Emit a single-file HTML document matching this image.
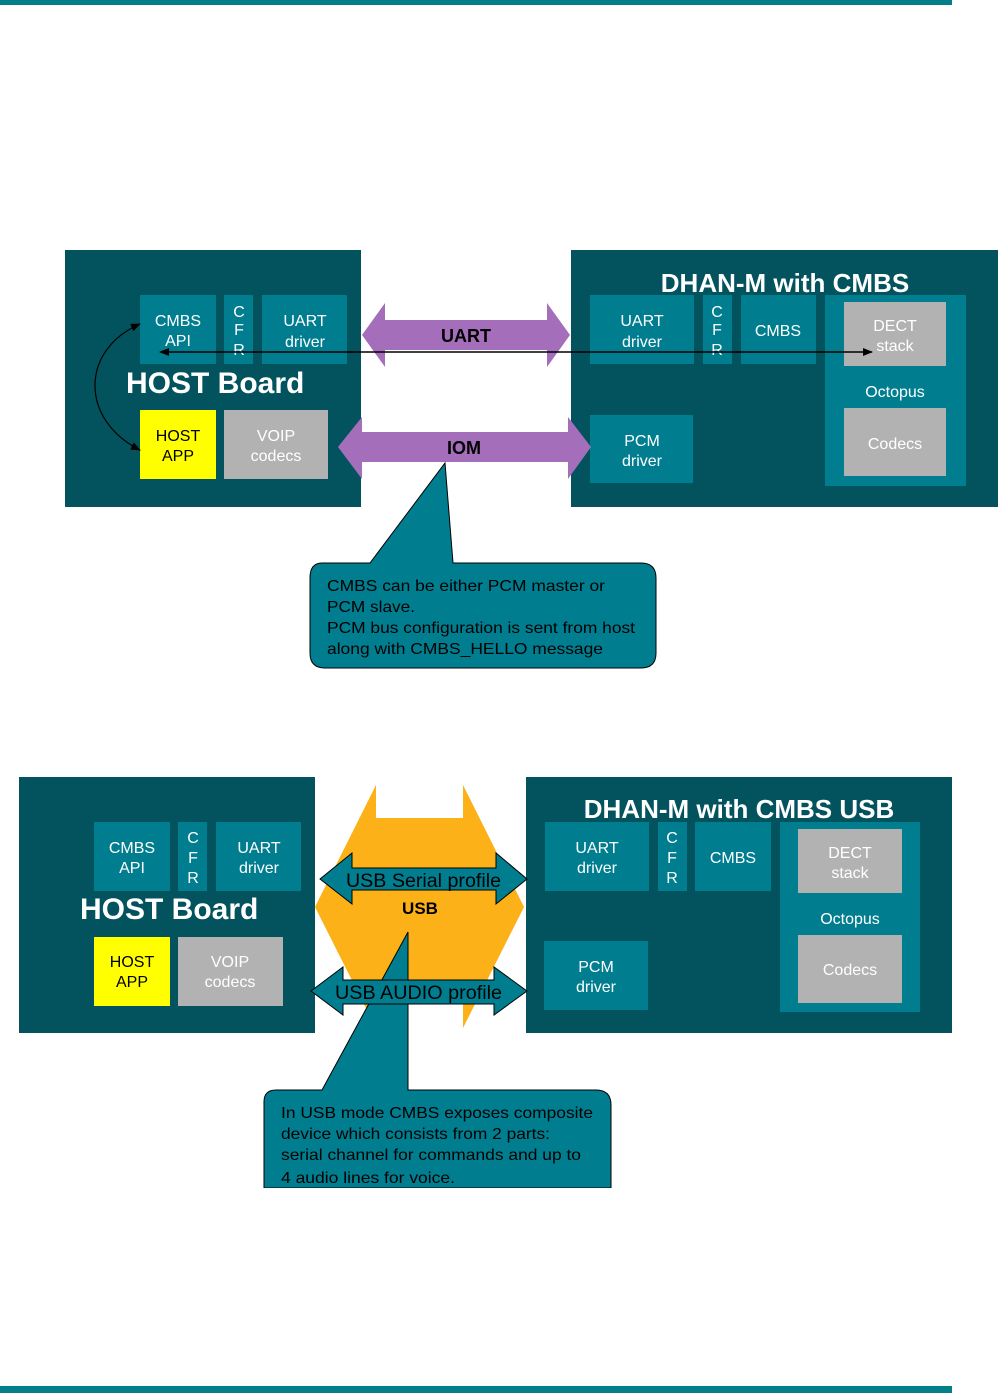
<!DOCTYPE html>
<html><head><meta charset="utf-8"><style>
body{margin:0;background:#fff;}
svg{display:block;font-family:"Liberation Sans",Arial,sans-serif;}
</style></head><body>
<svg width="1004" height="1393" viewBox="0 0 1004 1393" xmlns="http://www.w3.org/2000/svg">
<defs>
<marker id="ah" markerWidth="10" markerHeight="8" refX="9" refY="4" orient="auto-start-reverse" markerUnits="userSpaceOnUse"><path d="M0,0 L10,4 L0,8 z" fill="#000"/></marker>
</defs>
<rect x="0" y="0" width="952" height="5" fill="#037F8A"/>
<rect x="0" y="1386" width="952" height="7" fill="#037F8A"/>

<!-- TOP DIAGRAM -->
<rect x="65" y="250" width="296" height="257" fill="#03535F"/>
<rect x="571" y="250" width="427" height="257" fill="#03535F"/>
<g fill="#007E90">
<rect x="140" y="295" width="76" height="69"/>
<rect x="224" y="295" width="29" height="69"/>
<rect x="262" y="295" width="85" height="69"/>
<rect x="590" y="295" width="104" height="69"/>
<rect x="703" y="295" width="29" height="69"/>
<rect x="741" y="295" width="75" height="69"/>
<rect x="825" y="295" width="141" height="191"/>
<rect x="590" y="415" width="103" height="68"/>
</g>
<rect x="140" y="410" width="76" height="69" fill="#FFFF00"/>
<rect x="224" y="410" width="104" height="69" fill="#B2B2B2"/>
<rect x="844" y="302" width="102" height="64" fill="#B2B2B2"/>
<rect x="844" y="408" width="102" height="68" fill="#B2B2B2"/>
<g fill="#fff" font-size="16" text-anchor="middle">
<text x="178" y="326">CMBS</text><text x="178" y="346">API</text>
<text x="239" y="317">C</text><text x="239" y="335">F</text><text x="239" y="355">R</text>
<text x="305" y="326">UART</text><text x="305" y="347">driver</text>
<text x="276" y="441">VOIP</text><text x="276" y="461">codecs</text>
<text x="642" y="326">UART</text><text x="642" y="347">driver</text>
<text x="717" y="317">C</text><text x="717" y="335">F</text><text x="717" y="355">R</text>
<text x="778" y="336">CMBS</text>
<text x="895" y="331">DECT</text><text x="895" y="351">stack</text>
<text x="895" y="397">Octopus</text>
<text x="895" y="449">Codecs</text>
<text x="642" y="446">PCM</text><text x="642" y="466">driver</text>
</g>
<text x="178" y="441" font-size="16" text-anchor="middle">HOST</text>
<text x="178" y="461" font-size="16" text-anchor="middle">APP</text>
<text x="126" y="393" font-size="30" font-weight="bold" fill="#fff">HOST Board</text>
<text x="785" y="292" font-size="26" font-weight="bold" fill="#fff" text-anchor="middle">DHAN-M with CMBS</text>
<polygon points="362,335 385,303 385,320 547,320 547,303 570,335 547,367 547,350 385,350 385,367" fill="#A56EBB"/>
<text x="466" y="342" font-size="18" font-weight="bold" text-anchor="middle">UART</text>
<polygon points="338,447 362,417 362,432 568,432 568,417 591,447 568,479 568,462 362,462 362,479" fill="#A56EBB"/>
<text x="464" y="454" font-size="18" font-weight="bold" text-anchor="middle">IOM</text>
<line x1="160" y1="352" x2="872" y2="352" stroke="#000" stroke-width="1.5" marker-start="url(#ah)" marker-end="url(#ah)"/>
<path d="M140,324 C80,350 80,420 140,450" fill="none" stroke="#000" stroke-width="1.2" marker-start="url(#ah)" marker-end="url(#ah)"/>
<!-- callout top -->
<path d="M322,563 L370,563 L445,463 L453,563 L641,563 Q656,563 656,578 L656,653 Q656,668 641,668 L325,668 Q310,668 310,653 L310,578 Q310,563 322,563 z" fill="#007E90" stroke="#000" stroke-width="1"/>
<g font-size="16" fill="#000">
<text x="327" y="591" textLength="278" lengthAdjust="spacingAndGlyphs">CMBS can be either PCM master or</text>
<text x="327" y="612" textLength="88" lengthAdjust="spacingAndGlyphs">PCM slave.</text>
<text x="327" y="633" textLength="308" lengthAdjust="spacingAndGlyphs">PCM bus configuration is sent from host</text>
<text x="327" y="654" textLength="276" lengthAdjust="spacingAndGlyphs">along with CMBS_HELLO message</text>
</g>

<!-- BOTTOM DIAGRAM -->
<rect x="19" y="777" width="296" height="256" fill="#03535F"/>
<rect x="526" y="777" width="426" height="256" fill="#03535F"/>
<g fill="#007E90">
<rect x="94" y="822" width="76" height="69"/>
<rect x="178" y="822" width="29" height="69"/>
<rect x="216" y="822" width="85" height="69"/>
<rect x="545" y="822" width="104" height="69"/>
<rect x="658" y="822" width="29" height="69"/>
<rect x="695" y="822" width="76" height="69"/>
<rect x="780" y="822" width="140" height="190"/>
<rect x="544" y="941" width="104" height="69"/>
</g>
<rect x="94" y="937" width="76" height="69" fill="#FFFF00"/>
<rect x="178" y="937" width="105" height="69" fill="#B2B2B2"/>
<rect x="798" y="829" width="104" height="64" fill="#B2B2B2"/>
<rect x="798" y="935" width="104" height="68" fill="#B2B2B2"/>
<g fill="#fff" font-size="16" text-anchor="middle">
<text x="132" y="853">CMBS</text><text x="132" y="873">API</text>
<text x="193" y="843">C</text><text x="193" y="863">F</text><text x="193" y="883">R</text>
<text x="259" y="853">UART</text><text x="259" y="873">driver</text>
<text x="230" y="967">VOIP</text><text x="230" y="987">codecs</text>
<text x="597" y="853">UART</text><text x="597" y="873">driver</text>
<text x="672" y="843">C</text><text x="672" y="863">F</text><text x="672" y="883">R</text>
<text x="733" y="863">CMBS</text>
<text x="850" y="858">DECT</text><text x="850" y="878">stack</text>
<text x="850" y="924">Octopus</text>
<text x="850" y="975">Codecs</text>
<text x="596" y="972">PCM</text><text x="596" y="992">driver</text>
</g>
<text x="132" y="967" font-size="16" text-anchor="middle">HOST</text>
<text x="132" y="987" font-size="16" text-anchor="middle">APP</text>
<text x="80" y="919" font-size="30" font-weight="bold" fill="#fff">HOST Board</text>
<text x="739" y="818" font-size="26" font-weight="bold" fill="#fff" text-anchor="middle">DHAN-M with CMBS USB</text>
<polygon points="376,785 376,818 463,818 463,785 524,907 463,1028 463,995 376,995 376,1028 315,907" fill="#FDB119"/>
<polygon points="320,879 352,853 352,868 496,868 496,853 527,879 496,904 496,890 352,890 352,904" fill="#007E90" stroke="#000" stroke-width="1"/>
<text x="346" y="887" font-size="19" textLength="155" lengthAdjust="spacingAndGlyphs">USB Serial profile</text>
<text x="420" y="914" font-size="17" font-weight="bold" text-anchor="middle">USB</text>
<path d="M276,1090 L322,1090 L408,932 L408,1090 L596,1090 Q611,1090 611,1105 L611,1188 L264,1188 L264,1102 Q264,1090 276,1090 z" fill="#007E90" stroke="#000" stroke-width="1"/>
<polygon points="311,991 343,967 343,980 494,980 494,967 527,991 494,1015 494,1004 343,1004 343,1015" fill="#007E90" stroke="#000" stroke-width="1"/>
<text x="335" y="999" font-size="19" textLength="167" lengthAdjust="spacingAndGlyphs">USB AUDIO profile</text>
<g font-size="16" fill="#000">
<text x="281" y="1118" textLength="312" lengthAdjust="spacingAndGlyphs">In USB mode CMBS exposes composite</text>
<text x="281" y="1139" textLength="269" lengthAdjust="spacingAndGlyphs">device which consists from 2 parts:</text>
<text x="281" y="1160" textLength="300" lengthAdjust="spacingAndGlyphs">serial channel for commands and up to</text>
<text x="281" y="1183" textLength="174" lengthAdjust="spacingAndGlyphs">4 audio lines for voice.</text>
</g>
<rect x="260" y="1188" width="360" height="6" fill="#fff"/>
</svg>
</body></html>
